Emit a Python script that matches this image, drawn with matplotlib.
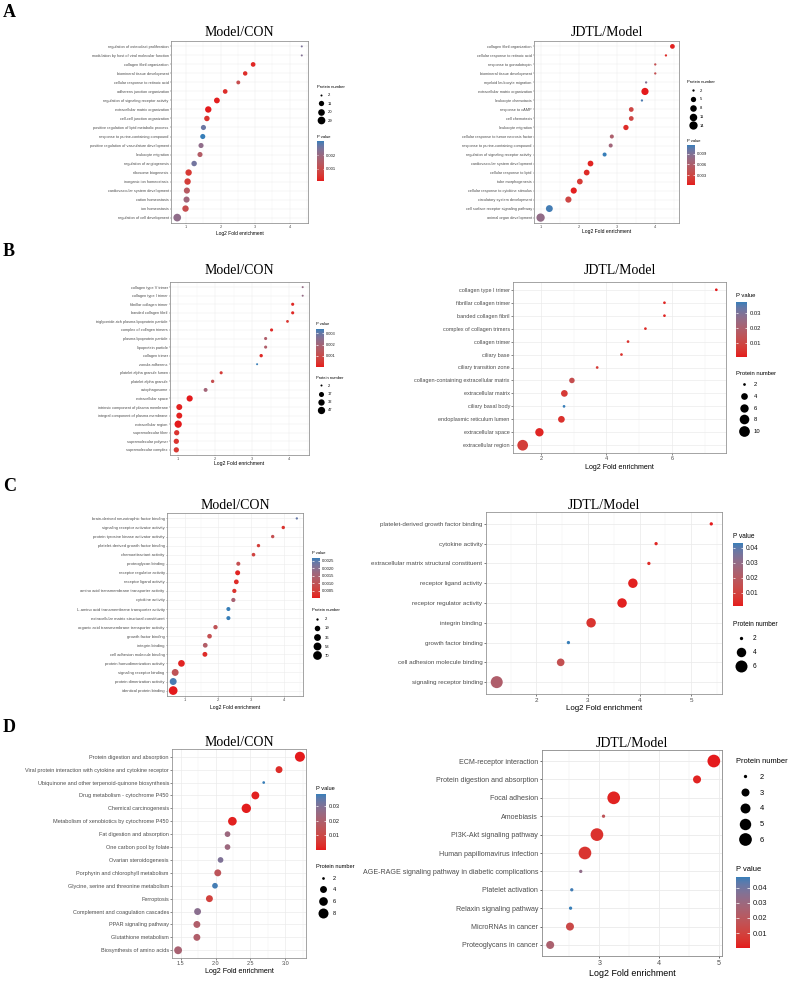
import numpy as np
import matplotlib
matplotlib.use("Agg")
import matplotlib.pyplot as plt
from matplotlib.colors import ListedColormap
from matplotlib.lines import Line2D
from matplotlib.ticker import MultipleLocator, AutoMinorLocator, FormatStrFormatter

# ---------------- data ----------------
A1_terms = ["regulation of osteoclast proliferation", "modulation by host of viral molecular function",
            "collagen fibril organization", "biomineral tissue development", "cellular response to retinoic acid",
            "adherens junction organization", "regulation of signaling receptor activity",
            "extracellular matrix organization", "cell-cell junction organization",
            "positive regulation of lipid metabolic process", "response to purine-containing compound",
            "positive regulation of vasculature development", "leukocyte migration", "regulation of angiogenesis",
            "ribosome biogenesis", "inorganic ion homeostasis", "cardiovascular system development",
            "cation homeostasis", "ion homeostasis", "regulation of cell development"]
A1_fold = [4.35, 4.35, 2.94, 2.71, 2.51, 2.13, 1.89, 1.64, 1.60, 1.50, 1.48, 1.43, 1.40, 1.23, 1.07, 1.04, 1.02, 1.01, 0.98, 0.74]
A1_count = [2, 2, 8, 7, 5, 8, 14, 18, 12, 10, 10, 10, 10, 12, 18, 18, 16, 16, 18, 29]
A1_p = [0.0025, 0.0024, 0.0002, 0.0003, 0.0010, 0.0003, 0.0001, 0.00005, 0.0004, 0.0027, 0.0031, 0.0022,
        0.0015, 0.0026, 0.0005, 0.0006, 0.0014, 0.0019, 0.0010, 0.0022]
A1_sizes = [2, 11, 20, 29]
A1_pticks = [0.001, 0.002]

A2_terms = ["collagen fibril organization", "cellular response to retinoic acid", "response to gonadotropin",
            "biomineral tissue development", "myeloid leukocyte migration", "extracellular matrix organization",
            "leukocyte chemotaxis", "response to cAMP", "cell chemotaxis", "leukocyte migration",
            "cellular response to tumor necrosis factor", "response to purine-containing compound",
            "regulation of signaling receptor activity", "cardiovascular system development",
            "cellular response to lipid", "tube morphogenesis", "cellular response to cytokine stimulus",
            "circulatory system development", "cell surface receptor signaling pathway", "animal organ development"]
A2_fold = [4.45, 4.28, 4.00, 4.00, 3.76, 3.73, 3.65, 3.37, 3.37, 3.23, 2.86, 2.83, 2.67, 2.30, 2.20, 2.02, 1.86, 1.72, 1.22, 0.99]
A2_count = [4, 2, 2, 2, 2, 10, 2, 4, 4, 5, 3, 3, 3, 6, 6, 6, 7, 7, 9, 14]
A2_p = [0.0005, 0.0010, 0.0040, 0.0040, 0.0090, 0.0002, 0.0110, 0.0030, 0.0030, 0.0010, 0.0060, 0.0070,
        0.0115, 0.0006, 0.0010, 0.0020, 0.0004, 0.0030, 0.0112, 0.0080]
A2_sizes = [2, 5, 8, 11, 14]
A2_pticks = [0.003, 0.006, 0.009]

B1_terms = ["collagen type V trimer", "collagen type I trimer", "fibrillar collagen trimer", "banded collagen fibril",
            "triglyceride-rich plasma lipoprotein particle", "complex of collagen trimers",
            "plasma lipoprotein particle", "lipoprotein particle", "collagen trimer", "zonula adherens",
            "platelet alpha granule lumen", "platelet alpha granule", "autophagosome", "extracellular space",
            "intrinsic component of plasma membrane", "integral component of plasma membrane",
            "extracellular region", "supramolecular fiber", "supramolecular polymer", "supramolecular complex"]
B1_fold = [4.36, 4.36, 4.09, 4.09, 3.95, 3.52, 3.36, 3.36, 3.24, 3.13, 2.16, 1.93, 1.74, 1.31, 1.03, 1.03, 1.00, 0.96, 0.95, 0.95]
B1_count = [2, 2, 4, 4, 3, 4, 4, 4, 5, 2, 4, 5, 8, 30, 27, 27, 47, 19, 19, 19]
B1_p = [0.0023, 0.0023, 0.0002, 0.0002, 0.0004, 0.0002, 0.0017, 0.0017, 0.0002, 0.0034, 0.0006, 0.0011,
        0.0020, 0.00002, 0.0001, 0.0001, 0.00001, 0.0004, 0.0004, 0.0005]
B1_sizes = [2, 17, 32, 47]
B1_pticks = [0.001, 0.002, 0.003]

B2_terms = ["collagen type I trimer", "fibrillar collagen trimer", "banded collagen fibril",
            "complex of collagen trimers", "collagen trimer", "ciliary base", "ciliary transition zone",
            "collagen-containing extracellular matrix", "extracellular matrix", "ciliary basal body",
            "endoplasmic reticulum lumen", "extracellular space", "extracellular region"]
B2_fold = [7.35, 5.77, 5.77, 5.19, 4.66, 4.46, 3.72, 2.95, 2.72, 2.71, 2.63, 1.96, 1.45]
B2_count = [2, 2, 2, 2, 2, 2, 2, 3, 4, 2, 4, 6, 10]
B2_p = [0.0004, 0.002, 0.002, 0.003, 0.004, 0.004, 0.006, 0.012, 0.006, 0.037, 0.004, 0.002, 0.007]
B2_sizes = [2, 4, 6, 8, 10]
B2_pticks = [0.01, 0.02, 0.03]

C1_terms = ["brain-derived neurotrophic factor binding", "signaling receptor activator activity",
            "protein tyrosine kinase activator activity", "platelet-derived growth factor binding",
            "chemoattractant activity", "proteoglycan binding", "receptor regulator activity",
            "receptor ligand activity", "amino acid transmembrane transporter activity", "cytokine activity",
            "L-amino acid transmembrane transporter activity", "extracellular matrix structural constituent",
            "organic acid transmembrane transporter activity", "growth factor binding", "integrin binding",
            "cell adhesion molecule binding", "protein homodimerization activity", "signaling receptor binding",
            "protein dimerization activity", "identical protein binding"]
C1_fold = [4.39, 3.98, 3.66, 3.23, 3.08, 2.62, 2.60, 2.56, 2.50, 2.47, 2.32, 2.32, 1.93, 1.75, 1.62, 1.61, 0.90, 0.71, 0.65, 0.65]
C1_count = [2, 4, 4, 4, 5, 7, 14, 12, 8, 8, 7, 7, 9, 11, 12, 13, 34, 37, 38, 70]
C1_p = [0.0024, 0.0003, 0.0009, 0.0005, 0.0006, 0.0009, 0.0001, 0.0002, 0.0003, 0.0015, 0.0027, 0.0027,
        0.0010, 0.0009, 0.0013, 0.0002, 0.0001, 0.0010, 0.0026, 0.00001]
C1_sizes = [2, 19, 36, 53, 70]
C1_pticks = [0.0005, 0.0010, 0.0015, 0.0020, 0.0025]

C2_terms = ["platelet-derived growth factor binding", "cytokine activity",
            "extracellular matrix structural constituent", "receptor ligand activity",
            "receptor regulator activity", "integrin binding", "growth factor binding",
            "cell adhesion molecule binding", "signaling receptor binding"]
C2_fold = [5.39, 4.32, 4.18, 3.87, 3.66, 3.06, 2.62, 2.47, 1.23]
C2_count = [2, 2, 2, 4, 4, 4, 2, 3, 6]
C2_p = [0.001, 0.003, 0.004, 0.002, 0.002, 0.006, 0.043, 0.015, 0.022]
C2_sizes = [2, 4, 6]
C2_pticks = [0.01, 0.02, 0.03, 0.04]

D1_terms = ["Protein digestion and absorption", "Viral protein interaction with cytokine and cytokine receptor",
            "Ubiquinone and other terpenoid-quinone biosynthesis", "Drug metabolism - cytochrome P450",
            "Chemical carcinogenesis", "Metabolism of xenobiotics by cytochrome P450",
            "Fat digestion and absorption", "One carbon pool by folate", "Ovarian steroidogenesis",
            "Porphyrin and chlorophyll metabolism", "Glycine, serine and threonine metabolism", "Ferroptosis",
            "Complement and coagulation cascades", "PPAR signaling pathway", "Glutathione metabolism",
            "Biosynthesis of amino acids"]
D1_fold = [3.21, 2.91, 2.69, 2.57, 2.44, 2.24, 2.17, 2.17, 2.07, 2.03, 1.99, 1.91, 1.74, 1.73, 1.73, 1.46]
D1_count = [8, 4, 2, 5, 7, 6, 3, 3, 3, 4, 3, 4, 4, 4, 4, 5]
D1_p = [0.0001, 0.003, 0.038, 0.001, 0.0005, 0.001, 0.024, 0.024, 0.030, 0.015, 0.037, 0.008, 0.028,
        0.019, 0.019, 0.021]
D1_sizes = [2, 4, 6, 8]
D1_pticks = [0.01, 0.02, 0.03]

D2_terms = ["ECM-receptor interaction", "Protein digestion and absorption", "Focal adhesion", "Amoebiasis",
            "PI3K-Akt signaling pathway", "Human papillomavirus infection",
            "AGE-RAGE signaling pathway in diabetic complications", "Platelet activation",
            "Relaxin signaling pathway", "MicroRNAs in cancer", "Proteoglycans in cancer"]
D2_fold = [4.91, 4.63, 3.24, 3.07, 2.96, 2.76, 2.69, 2.54, 2.52, 2.51, 2.18]
D2_count = [6, 3, 6, 2, 6, 6, 2, 2, 2, 3, 3]
D2_p = [0.0002, 0.002, 0.002, 0.018, 0.005, 0.006, 0.033, 0.046, 0.047, 0.013, 0.025]
D2_sizes = [2, 3, 4, 5, 6]
D2_pticks = [0.01, 0.02, 0.03, 0.04]

# ---------------- style ----------------
SANS = ["Liberation Sans", "DejaVu Sans"]
SERIF = ["Liberation Serif", "DejaVu Serif"]
plt.rcParams["font.family"] = SANS

W, H = 789, 981
PT = 0.72  # points per pixel at 100 dpi

# colour gradient interpolated in CIELAB (like ggplot's scale_colour_gradient)
_M = np.array([[0.4124564, 0.3575761, 0.1804375],
               [0.2126729, 0.7151522, 0.0721750],
               [0.0193339, 0.1191920, 0.9503041]])
_WHITE = np.array([0.95047, 1.0, 1.08883])


def _hex(h):
    return np.array([int(h[i:i + 2], 16) for i in (1, 3, 5)]) / 255.0


def _rgb2lab(c):
    lin = np.where(c <= 0.04045, c / 12.92, ((c + 0.055) / 1.055) ** 2.4)
    xyz = _M @ lin / _WHITE
    f = np.where(xyz > 216 / 24389, np.cbrt(xyz), (24389 / 27 * xyz + 16) / 116)
    return np.array([116 * f[1] - 16, 500 * (f[0] - f[1]), 200 * (f[1] - f[2])])


def _lab2rgb(lab):
    L, a, b = lab
    fy = (L + 16) / 116
    f = np.array([fy + a / 500, fy, fy - b / 200])
    xyz = np.where(f ** 3 > 216 / 24389, f ** 3, (116 * f - 16) / (24389 / 27)) * _WHITE
    lin = np.linalg.solve(_M, xyz)
    lin = np.clip(lin, 0, None)
    c = np.where(lin <= 0.0031308, 12.92 * lin, 1.055 * lin ** (1 / 2.4) - 0.055)
    return np.clip(c, 0, 1)


_lo, _hi = _rgb2lab(_hex("#E41A1C")), _rgb2lab(_hex("#377EB8"))
CMAP = ListedColormap([_lab2rgb(_lo + (_hi - _lo) * t) for t in np.linspace(0, 1, 256)])

fig = plt.figure(figsize=(W / 100, H / 100), dpi=100)


def rect(x0, y0, x1, y1):
    return [x0 / W, 1 - y1 / H, (x1 - x0) / W, (y1 - y0) / H]


def diam(n, nmin, nmax, dmin, dmax):
    r = np.clip((np.asarray(n, float) - nmin) / (nmax - nmin), 0, None)
    return dmin + (dmax - dmin) * np.sqrt(r)


def panel(terms, fold, count, pval, size_breaks, p_ticks, cfg):
    x0, y0, x1, y1 = cfg["box"]
    ax = fig.add_axes(rect(x0, y0, x1, y1))
    n = len(terms)
    y = np.arange(n)
    nmin, nmax = min(count), max(count)
    d = diam(count, nmin, nmax, cfg["dmin"], cfg["dmax"])
    sc = ax.scatter(fold, y, s=(d * PT) ** 2, c=pval, cmap=CMAP, linewidths=0, zorder=3)
    lo, hi = min(fold), max(fold)
    pad = 0.05 * (hi - lo)
    ax.set_xlim(lo - pad, hi + pad)
    ax.set_ylim(n - 0.4, -0.6)
    ax.set_yticks(y, terms)
    ax.xaxis.set_major_locator(MultipleLocator(cfg["step"]))
    ax.xaxis.set_minor_locator(AutoMinorLocator(2))
    ax.xaxis.set_major_formatter(FormatStrFormatter(cfg["fmt"]))
    s = cfg["fs_tick"] / 8.8
    ax.tick_params(which="major", length=2.75 * s, width=1.07 * s, color="#555555", pad=2.2 * s,
                   labelsize=cfg["fs_tick"], labelcolor="#4D4D4D")
    ax.tick_params(which="minor", length=0)
    ax.grid(which="major", color="#EBEBEB", lw=1.07 * s)
    ax.grid(which="minor", axis="x", color="#EBEBEB", lw=0.53 * s)
    ax.set_axisbelow(True)
    for sp in ax.spines.values():
        sp.set_color("#8C8C8C")
        sp.set_linewidth(max(1.07 * s, 0.55))
    ax.set_xlabel("Log2 Fold enrichment", fontsize=cfg["fs_lab"], va="center")
    ax.xaxis.set_label_coords(0.5, -cfg["lab_dy"] / (y1 - y0))
    ax.set_title(cfg["title"], fontsize=10, family=SERIF, pad=cfg["tpad"] * PT)

    # size legend
    lx0, lty, f, mx, lx, pitch = cfg["leg"]
    f_px = f / PT
    handles = [Line2D([], [], ls="none", marker="o", color="black", mew=0,
                      ms=float(diam(b, nmin, nmax, cfg["dmin"], cfg["dmax"])) * PT) for b in size_breaks]
    hl = 2 * (mx - lx0) / f_px
    htp = (lx - lx0 - hl * f_px) / f_px
    fig.legend(handles, [str(b) for b in size_breaks], loc="upper left",
               bbox_to_anchor=(lx0 / W, 1 - (lty - 0.55 * f_px) / H), frameon=False,
               title="Protein number", title_fontsize=f, fontsize=f, alignment="left",
               borderpad=0, borderaxespad=0, handlelength=hl, handletextpad=htp,
               labelspacing=pitch / f_px - 0.95, handleheight=0.7)

    # colour bar
    cx0, cy0, cx1, cy1, cty = cfg["cbar"]
    cax = fig.add_axes(rect(cx0, cy0, cx1, cy1))
    cb = fig.colorbar(sc, cax=cax, ticks=p_ticks, format=FormatStrFormatter(cfg["cbfmt"]))
    cb.outline.set_visible(False)
    cax.minorticks_off()
    cax.tick_params(which="major", direction="in", color="white", length=(cx1 - cx0) * PT / 5,
                    width=0.5, left=True, right=True, labelleft=False, labelright=True,
                    labelsize=f, labelcolor="#1A1A1A", pad=0.4 * f)
    fig.text(cx0 / W, 1 - cty / H, "P value", fontsize=f, va="center", ha="left")
    return ax


CFG = {
    "A1": dict(title="Model/CON", box=(171, 41, 308, 223), step=1, fmt="%d", fs_tick=2.8, fs_lab=3.55,
               lab_dy=10, tpad=5, dmin=2.0, dmax=7.7, leg=(317, 87, 3.0, 321, 327.7, 8.5),
               cbar=(317, 141, 324, 181, 136.7), cbfmt="%.3f"),
    "A2": dict(title="JDTL/Model", box=(534, 41, 679, 223), step=1, fmt="%d", fs_tick=2.8, fs_lab=3.6,
               lab_dy=8.7, tpad=5, dmin=2.3, dmax=8.3, leg=(687, 82, 2.95, 692.7, 700, 8.7),
               cbar=(687, 145, 695, 185, 141), cbfmt="%.3f"),
    "B1": dict(title="Model/CON", box=(170, 282, 309, 455), step=1, fmt="%d", fs_tick=2.75, fs_lab=3.7,
               lab_dy=9, tpad=7.7, dmin=2.0, dmax=7.3, leg=(316, 378, 2.9, 320.7, 328, 7.9),
               cbar=(316, 329, 324, 367, 324), cbfmt="%.3f"),
    "B2": dict(title="JDTL/Model", box=(513, 282, 726, 453), step=2, fmt="%d", fs_tick=4.0, fs_lab=5.1,
               lab_dy=14.3, tpad=7.7, dmin=2.7, dmax=10.7, leg=(736, 374, 4.2, 744, 754, 12.1),
               cbar=(736, 302, 747, 357, 296), cbfmt="%.2f"),
    "C1": dict(title="Model/CON", box=(167, 513, 303, 696), step=1, fmt="%d", fs_tick=3.0, fs_lab=3.7,
               lab_dy=11, tpad=4.4, dmin=2.3, dmax=8.7, leg=(312, 610.7, 3.0, 316.7, 325, 9.0),
               cbar=(312, 558, 320, 598, 553), cbfmt="%.4f"),
    "C2": dict(title="JDTL/Model", box=(486, 512, 722, 694), step=1, fmt="%d", fs_tick=4.5, fs_lab=5.7,
               lab_dy=14, tpad=3.4, dmin=3.3, dmax=12.0, leg=(733, 625, 4.7, 741, 753, 13.2),
               cbar=(733, 543, 743, 606, 537), cbfmt="%.2f"),
    "D1": dict(title="Model/CON", box=(172, 749, 306, 958), step=0.5, fmt="%.1f", fs_tick=4.0, fs_lab=5.1,
               lab_dy=13.7, tpad=2.6, dmin=2.7, dmax=10.0, leg=(316, 867, 4.1, 322.7, 333, 12.1),
               cbar=(316, 794, 326, 850, 789), cbfmt="%.2f"),
    "D2": dict(title="JDTL/Model", box=(542, 750, 722, 956), step=1, fmt="%d", fs_tick=5.1, fs_lab=6.4,
               lab_dy=17.3, tpad=3.3, dmin=3.3, dmax=12.7, leg=(736, 762, 5.4, 745, 760, 15.7),
               cbar=(736, 877, 750, 948, 869.3), cbfmt="%.2f"),
}

panel(A1_terms, A1_fold, A1_count, A1_p, A1_sizes, A1_pticks, CFG["A1"])
panel(A2_terms, A2_fold, A2_count, A2_p, A2_sizes, A2_pticks, CFG["A2"])
panel(B1_terms, B1_fold, B1_count, B1_p, B1_sizes, B1_pticks, CFG["B1"])
panel(B2_terms, B2_fold, B2_count, B2_p, B2_sizes, B2_pticks, CFG["B2"])
panel(C1_terms, C1_fold, C1_count, C1_p, C1_sizes, C1_pticks, CFG["C1"])
panel(C2_terms, C2_fold, C2_count, C2_p, C2_sizes, C2_pticks, CFG["C2"])
panel(D1_terms, D1_fold, D1_count, D1_p, D1_sizes, D1_pticks, CFG["D1"])
panel(D2_terms, D2_fold, D2_count, D2_p, D2_sizes, D2_pticks, CFG["D2"])

for letter, ybase in [("A", 16.8), ("B", 255.6), ("C", 490.6), ("D", 732.3)]:
    fig.text(3 / W, 1 - ybase / H, letter, fontsize=13, weight="bold", family=SERIF, va="baseline", ha="left")

fig.savefig("out.png", dpi=100, facecolor="white")
